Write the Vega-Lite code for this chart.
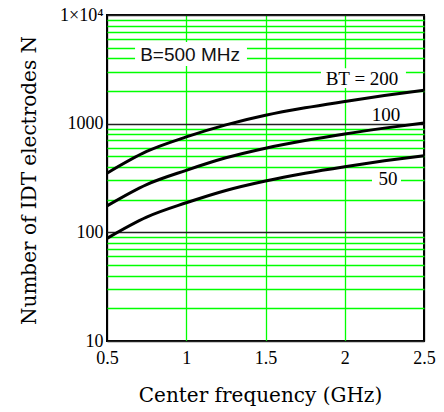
{
  "$schema": "https://vega.github.io/schema/vega-lite/v6.json",
  "width": 317,
  "height": 326,
  "autosize": "none",
  "padding": {"left": 107, "top": 15, "right": 20, "bottom": 71},
  "background": "white",
  "view": {"stroke": "black", "strokeWidth": 2},
  "datasets": {
    "curves": [
      {"f": 0.5, "N": 350, "BT": 200}, {"f": 0.75, "N": 555, "BT": 200}, {"f": 1, "N": 755, "BT": 200},
      {"f": 1.25, "N": 975, "BT": 200}, {"f": 1.5, "N": 1195, "BT": 200}, {"f": 1.75, "N": 1400, "BT": 200},
      {"f": 2, "N": 1600, "BT": 200}, {"f": 2.25, "N": 1815, "BT": 200}, {"f": 2.5, "N": 2030, "BT": 200},
      {"f": 0.5, "N": 175, "BT": 100}, {"f": 0.75, "N": 275, "BT": 100}, {"f": 1, "N": 372, "BT": 100},
      {"f": 1.25, "N": 485, "BT": 100}, {"f": 1.5, "N": 595, "BT": 100}, {"f": 1.75, "N": 700, "BT": 100},
      {"f": 2, "N": 805, "BT": 100}, {"f": 2.25, "N": 910, "BT": 100}, {"f": 2.5, "N": 1015, "BT": 100},
      {"f": 0.5, "N": 88, "BT": 50}, {"f": 0.75, "N": 138, "BT": 50}, {"f": 1, "N": 187, "BT": 50},
      {"f": 1.25, "N": 243, "BT": 50}, {"f": 1.5, "N": 297, "BT": 50}, {"f": 1.75, "N": 350, "BT": 50},
      {"f": 2, "N": 402, "BT": 50}, {"f": 2.25, "N": 455, "BT": 50}, {"f": 2.5, "N": 507, "BT": 50}
    ],
    "boxes": [
      {"f1": 0.677, "f2": 1.383, "N1": 3390, "N2": 5640},
      {"f1": 1.85, "f2": 2.386, "N1": 2128, "N2": 3243},
      {"f1": 2.172, "f2": 2.355, "N1": 267, "N2": 359}
    ],
    "sansLabels": [
      {"f": 1.024, "N": 4275, "label": "B=500 MHz"}
    ],
    "serifLabels": [
      {"f": 2.109, "N": 2600, "label": "BT = 200"},
      {"f": 2.26, "N": 1200, "label": "100"},
      {"f": 2.273, "N": 309, "label": "50"}
    ]
  },
  "config": {
    "axis": {
      "labelFont": "Liberation Serif",
      "labelFontSize": 18,
      "labelColor": "black",
      "titleFont": "DejaVu Serif",
      "titleFontSize": 20,
      "titleFontWeight": "normal",
      "titleColor": "black",
      "ticks": false,
      "domain": false,
      "labelOverlap": false,
      "labelFlush": false,
      "gridOpacity": 1,
      "gridWidth": 1.3
    }
  },
  "layer": [
    {
      "data": {"name": "boxes"},
      "mark": {"type": "rect", "fill": "white", "stroke": null},
      "encoding": {
        "x": {
          "field": "f1", "type": "quantitative",
          "scale": {"type": "linear", "domain": [0.5, 2.5], "nice": false, "zero": false},
          "axis": {
            "title": "Center frequency (GHz)",
            "values": [0.5, 1, 1.5, 2, 2.5],
            "format": "~g",
            "labelPadding": 8,
            "labelDx": 2,
            "gridColor": {"condition": {"test": "datum.value < 0.6 || datum.value > 2.4", "value": "black"}, "value": "#00ff00"},
            "titleX": 153,
            "titleY": 60,
            "titleBaseline": "alphabetic",
            "titleAnchor": "middle"
          }
        },
        "x2": {"field": "f2"},
        "y": {
          "field": "N1", "type": "quantitative",
          "scale": {"type": "log", "domain": [10, 10000], "nice": false},
          "axis": {
            "title": "Number of IDT electrodes N",
            "values": [10, 20, 30, 40, 50, 60, 70, 80, 90, 100, 200, 300, 400, 500, 600, 700, 800, 900, 1000, 2000, 3000, 4000, 5000, 6000, 7000, 8000, 9000, 10000],
            "labelExpr": "datum.value == 10000 ? '1×10⁴' : ((datum.value == 10 || datum.value == 100 || datum.value == 1000) ? datum.value + '' : '')",
            "labelPadding": 4,
            "gridColor": {"condition": {"test": "datum.value == 10 || datum.value == 100 || datum.value == 1000 || datum.value == 10000", "value": "#222222"}, "value": "#00ff00"},
            "titleX": -72,
            "titleY": 165,
            "titleAngle": -90,
            "titleBaseline": "alphabetic",
            "titleAlign": "center"
          }
        },
        "y2": {"field": "N2"}
      }
    },
    {
      "data": {"name": "curves"},
      "mark": {"type": "line", "color": "black", "strokeWidth": 3, "interpolate": "monotone"},
      "encoding": {
        "x": {"field": "f", "type": "quantitative"},
        "y": {"field": "N", "type": "quantitative"},
        "detail": {"field": "BT", "type": "nominal"}
      }
    },
    {
      "data": {"name": "sansLabels"},
      "mark": {"type": "text", "font": "Liberation Sans", "fontSize": 19, "color": "#111111", "align": "center", "baseline": "middle"},
      "encoding": {
        "x": {"field": "f", "type": "quantitative"},
        "y": {"field": "N", "type": "quantitative"},
        "text": {"field": "label"}
      }
    },
    {
      "data": {"name": "serifLabels"},
      "mark": {"type": "text", "font": "Liberation Serif", "fontSize": 19, "color": "black", "align": "center", "baseline": "middle"},
      "encoding": {
        "x": {"field": "f", "type": "quantitative"},
        "y": {"field": "N", "type": "quantitative"},
        "text": {"field": "label"}
      }
    }
  ]
}
